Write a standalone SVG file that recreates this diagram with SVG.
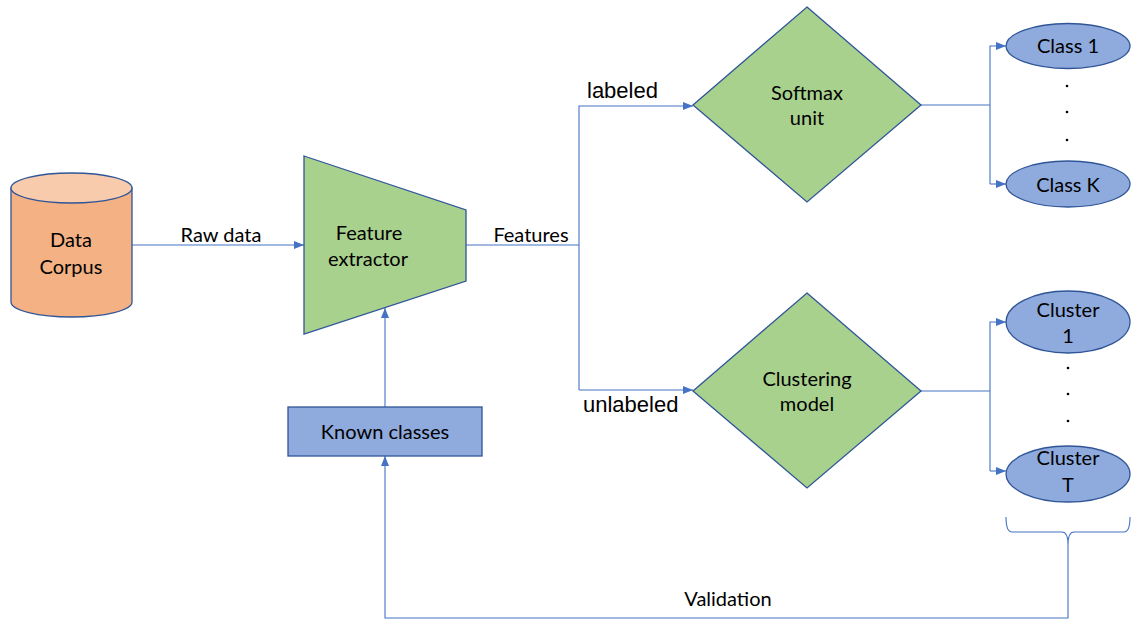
<svg xmlns="http://www.w3.org/2000/svg" width="1131" height="620" viewBox="0 0 1131 620">
<style>
.n{stroke:#2F5597;stroke-width:1.3}
.g{fill:#A9D18E}
.b{fill:#8FAADC}
.t{font-family:Lato,"Liberation Sans",sans-serif;font-size:20px;fill:#000;text-anchor:middle}
.a{font-family:"Liberation Sans",Arial,sans-serif;font-size:22px;fill:#000}
.c{fill:none;stroke:#4472C4;stroke-width:1.1}
.d{fill:#000}
</style>
<defs>
<marker id="ar" markerUnits="userSpaceOnUse" markerWidth="10" markerHeight="10" viewBox="0 0 10 10" refX="10" refY="5" orient="auto">
<path d="M0,1 L10,5 L0,9 z" fill="#4472C4"/>
</marker>
</defs>
<rect width="1131" height="620" fill="#fff"/>
<g id="connectors">
<path class="c" d="M132,245 H304" marker-end="url(#ar)"/>
<path class="c" d="M466,245 H579"/>
<path class="c" d="M579,390 V106 H693" marker-end="url(#ar)"/>
<path class="c" d="M579,390 H693" marker-end="url(#ar)"/>
<path class="c" d="M921,105 H990"/>
<path class="c" d="M990,184 V46 H1006" marker-end="url(#ar)"/>
<path class="c" d="M990,184 H1006" marker-end="url(#ar)"/>
<path class="c" d="M921,391 H990"/>
<path class="c" d="M990,471 V322 H1006" marker-end="url(#ar)"/>
<path class="c" d="M990,471 H1006" marker-end="url(#ar)"/>
<path class="c" d="M385,407 V308" marker-end="url(#ar)"/>
<path class="c" d="M1006,517 Q1006,532 1012,532 H1062 Q1068,532 1068,545 Q1068,532 1074,532 H1124 Q1130,532 1130,517"/>
<path class="c" d="M1068,545 V618 H385 V456" marker-end="url(#ar)"/>
</g>
<g id="data-corpus">
<path class="n" d="M11,188 V302 A60.5,15 0 0 0 132,302 V188 Z" fill="#F4B183"/>
<ellipse class="n" cx="71.5" cy="188" rx="60.5" ry="15" fill="#F8CBAD"/>
<text class="t" x="71" y="247">Data</text>
<text class="t" x="71" y="274">Corpus</text>
</g>
<g id="feature-extractor">
<path class="n g" d="M304,156 L466,210 L466,281 L304,334 Z"/>
<text class="t" x="369" y="240">Feature</text>
<text class="t" x="368" y="266">extractor</text>
</g>
<g id="softmax-unit">
<path class="n g" d="M807,7 L921,105 L807,202 L693,105 Z"/>
<text class="t" x="807" y="100">Softmax</text>
<text class="t" x="807" y="125">unit</text>
</g>
<g id="clustering-model">
<path class="n g" d="M807,293 L921,391 L807,488 L693,391 Z"/>
<text class="t" x="807" y="386">Clustering</text>
<text class="t" x="807" y="411">model</text>
</g>
<g id="known-classes">
<rect class="n b" x="288" y="407" width="194" height="49"/>
<text class="t" x="385" y="439">Known classes</text>
</g>
<g id="class-1">
<ellipse class="n b" cx="1068" cy="46" rx="62" ry="22.5"/>
<text class="t" x="1068" y="53">Class 1</text>
</g>
<g id="class-k">
<ellipse class="n b" cx="1068" cy="184" rx="62" ry="23"/>
<text class="t" x="1068" y="192">Class K</text>
</g>
<g id="cluster-1">
<ellipse class="n b" cx="1068" cy="322" rx="62" ry="31"/>
<text class="t" x="1068" y="317">Cluster</text>
<text class="t" x="1068" y="343">1</text>
</g>
<g id="cluster-t">
<ellipse class="n b" cx="1068" cy="474" rx="62" ry="28"/>
<text class="t" x="1068" y="465">Cluster</text>
<text class="t" x="1068" y="492">T</text>
</g>
<g id="dots">
<circle class="d" cx="1067" cy="86" r="1.3"/>
<circle class="d" cx="1067" cy="112" r="1.3"/>
<circle class="d" cx="1067" cy="140" r="1.3"/>
<circle class="d" cx="1068" cy="368" r="1.3"/>
<circle class="d" cx="1068" cy="394" r="1.3"/>
<circle class="d" cx="1068" cy="421" r="1.3"/>
</g>
<g id="labels">
<text class="t" x="221" y="242">Raw data</text>
<text class="t" x="531" y="242">Features</text>
<text class="a" x="587" y="98">labeled</text>
<text class="a" x="583" y="412">unlabeled</text>
<text class="t" x="728" y="606">Validation</text>
</g>
</svg>
